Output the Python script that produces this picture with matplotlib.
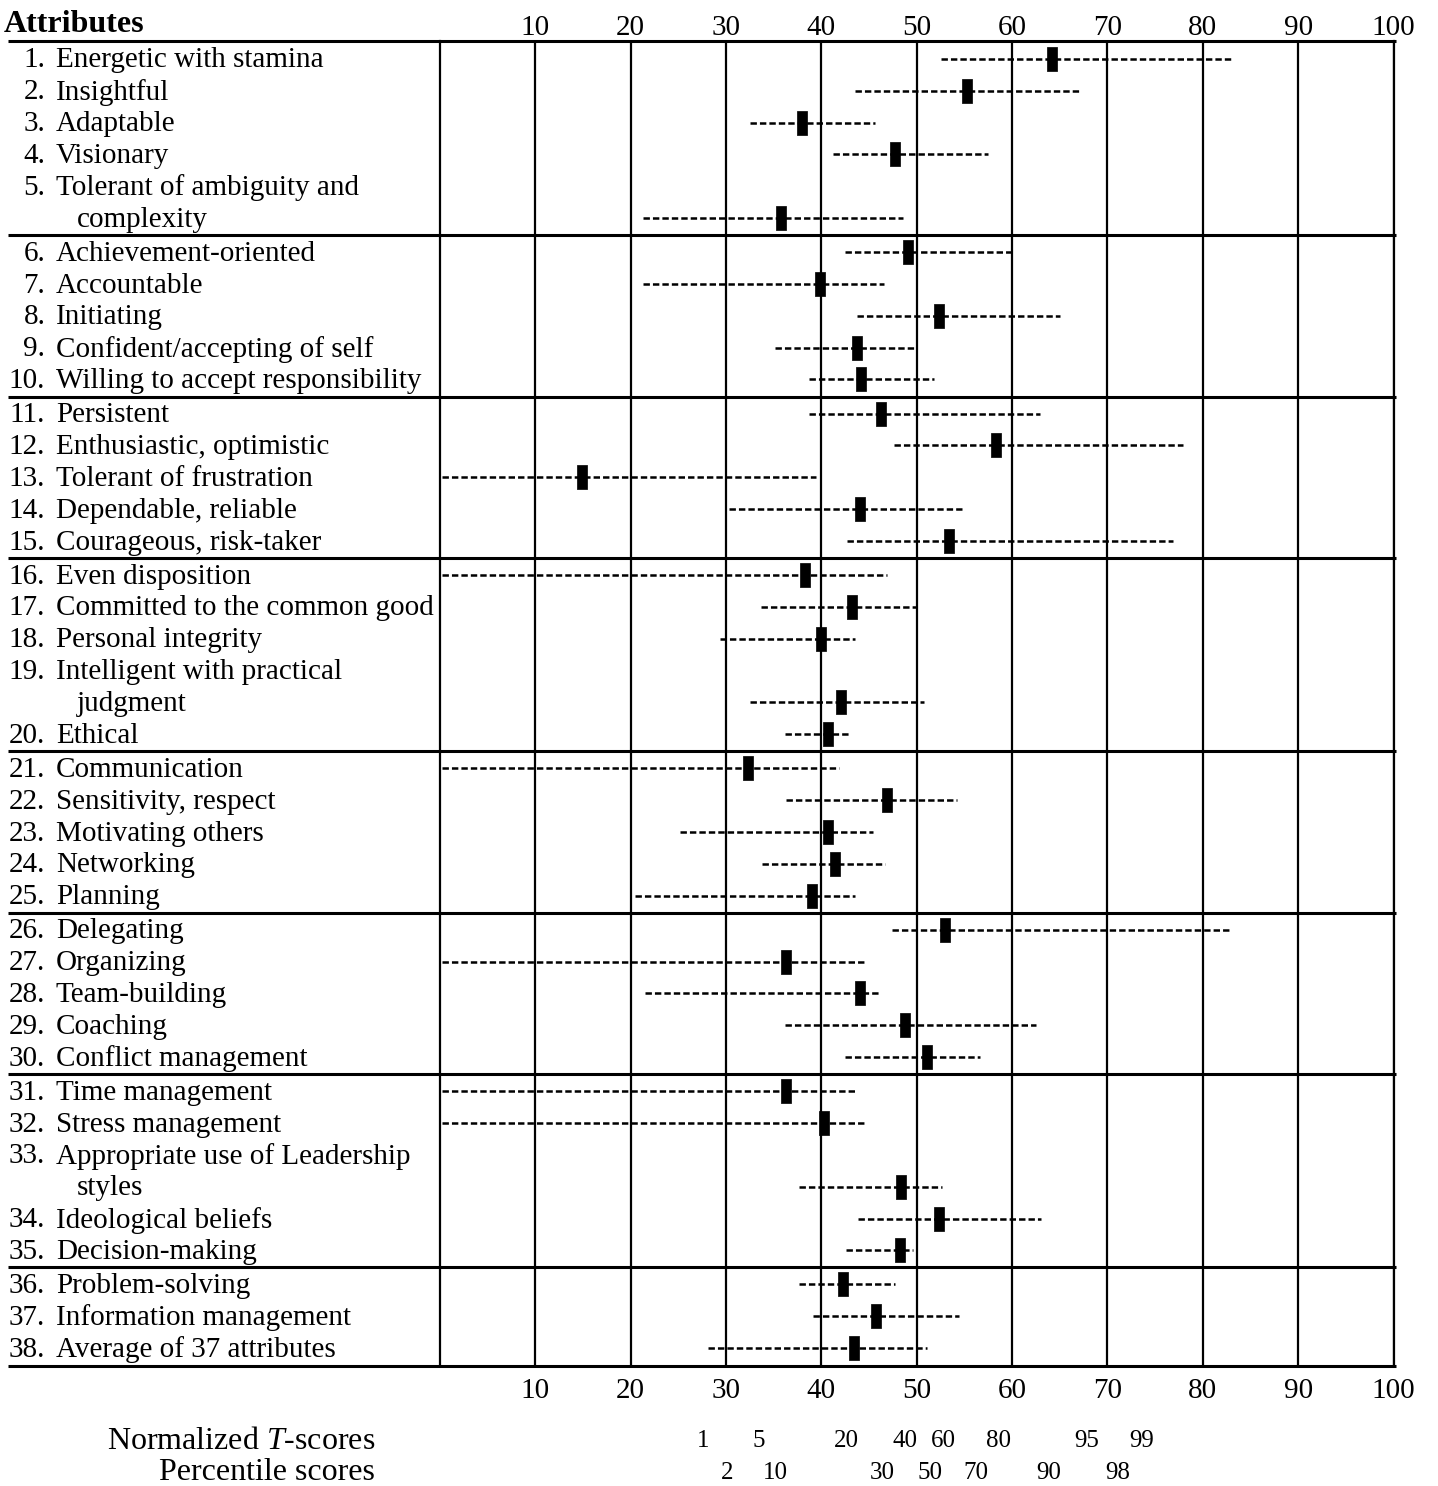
import matplotlib
matplotlib.use('Agg')
import matplotlib.pyplot as plt

plt.rcParams['font.family'] = ['Liberation Serif', 'DejaVu Serif']
plt.rcParams['mathtext.fontset'] = 'custom'
plt.rcParams['mathtext.rm'] = 'Liberation Serif'
plt.rcParams['mathtext.it'] = 'Liberation Serif:italic'
plt.rcParams['lines.scale_dashes'] = False

# ---------------- data ----------------
attributes = [
    "Energetic with stamina", "Insightful", "Adaptable", "Visionary",
    "Tolerant of ambiguity and\ncomplexity",
    "Achievement-oriented", "Accountable", "Initiating",
    "Confident/accepting of self", "Willing to accept responsibility",
    "Persistent", "Enthusiastic, optimistic", "Tolerant of frustration",
    "Dependable, reliable", "Courageous, risk-taker",
    "Even disposition", "Committed to the common good", "Personal integrity",
    "Intelligent with practical\njudgment", "Ethical",
    "Communication", "Sensitivity, respect", "Motivating others",
    "Networking", "Planning",
    "Delegating", "Organizing", "Team-building", "Coaching",
    "Conflict management",
    "Time management", "Stress management",
    "Appropriate use of Leadership\nstyles", "Ideological beliefs",
    "Decision-making",
    "Problem-solving", "Information management", "Average of 37 attributes",
]
group_sizes = [5, 5, 5, 5, 5, 5, 5, 3]

means = [64.2, 55.3, 38.0, 47.7, 35.8,
         49.1, 39.9, 52.3, 43.7, 44.2,
         46.3, 58.3, 14.9, 44.0, 53.4,
         38.3, 43.2, 40.0, 42.1, 40.7,
         32.3, 46.9, 40.7, 41.4, 39.0,
         53.0, 36.3, 44.1, 48.8, 51.1,
         36.3, 40.3, 48.3, 52.3, 48.2,
         42.3, 45.7, 43.4]
lows = [52.5, 43.5, 32.5, 41.2, 21.3,
        42.5, 21.3, 43.7, 35.1, 38.7,
        38.7, 47.6, 0.2, 30.3, 42.7,
        0.2, 33.7, 29.4, 32.5, 36.2,
        0.2, 36.3, 25.2, 33.8, 20.5,
        47.4, 0.2, 21.5, 36.2, 42.5,
        0.2, 0.2, 37.6, 43.8, 42.6,
        37.7, 39.1, 28.1]
highs = [83.0, 67.1, 45.6, 57.5, 48.6,
         59.9, 46.6, 65.0, 50.0, 51.8,
         62.9, 77.9, 39.4, 54.7, 76.9,
         46.9, 50.0, 43.5, 50.8, 43.0,
         41.8, 54.2, 45.4, 46.7, 43.5,
         82.8, 44.7, 46.3, 62.5, 56.6,
         43.7, 44.8, 52.7, 63.0, 49.6,
         47.7, 54.4, 51.1]

axis_ticks = [10, 20, 30, 40, 50, 60, 70, 80, 90, 100]

tscore_labels = ["1", "5", "20", "40", "60", "80", "95", "99"]
tscore_pos = [27.6, 33.4, 42.6, 48.8, 52.8, 58.6, 67.8, 73.6]
pct_labels = ["2", "10", "30", "50", "70", "90", "98"]
pct_pos = [30.1, 35.2, 46.4, 51.4, 56.2, 63.8, 71.1]

# ---------------- layout ----------------
gap = 0.07
line_y, item_y, sep_y = [], [], []
cur = 0.0
idx = 0
for gi, n in enumerate(group_sizes):
    for _ in range(n):
        ys = []
        for _ln in attributes[idx].split('\n'):
            ys.append(cur)
            cur += 1
        line_y.append(ys)
        item_y.append(ys[-1])
        idx += 1
    if gi < len(group_sizes) - 1:
        sep_y.append(cur - 0.5 + gap / 2)
        cur += gap
last = cur - 1
y_top = -0.56
y_bot = last + 0.56

W, H = 1438, 1486
fig = plt.figure(figsize=(W / 100, H / 100), dpi=100)
ax = fig.add_axes([440 / W, 120 / H, (1393.5 - 440) / W, 1325 / H])
ax.set_xlim(0, 100)
ax.set_ylim(y_bot, y_top)

FS = 21
x_line_left = -45.3
x_line_right = 100.3
x_num = -41.4
x_text = -40.3
x_cont = -38.1

# vertical grid
ax.set_xticks(axis_ticks)
ax.set_xticklabels([str(t) for t in axis_ticks], fontsize=FS)
ax.grid(axis='x', color='black', lw=1.6)
ax.set_yticks([])
ax.tick_params(axis='x', length=0, pad=9)
for s in ['top', 'bottom']:
    ax.spines[s].set_visible(False)
for s in ['left', 'right']:
    ax.spines[s].set_linewidth(1.6)

sec = ax.secondary_xaxis('top')
sec.set_xticks(axis_ticks)
sec.set_xticklabels([str(t) for t in axis_ticks], fontsize=FS)
sec.tick_params(axis='x', length=0, pad=0)
sec.spines['top'].set_visible(False)

# horizontal rules
rules = [y_top] + sep_y + [y_bot]
hl = ax.hlines(rules, x_line_left, x_line_right, colors='black', lw=2.2)
hl.set_clip_on(False)

# ranges (dashed)
ax.hlines(item_y, lows, highs, colors='black', lw=1.8,
          linestyles=[(0, (4.6, 2.2))])
# means (black bars)
rect = [(-0.2, -0.5), (0.2, -0.5), (0.2, 0.5), (-0.2, 0.5), (-0.2, -0.5)]
ax.plot(means, item_y, ls='none', marker=rect, ms=17.5, color='black',
        mec='black', mew=0.5)

# attribute labels
for i, ys in enumerate(line_y):
    parts = attributes[i].split('\n')
    ax.text(x_num, ys[0] + 0.05, f"{i + 1}.", ha='right', va='center',
            fontsize=FS, clip_on=False)
    ax.text(x_text, ys[0] + 0.05, parts[0], ha='left', va='center',
            fontsize=FS, clip_on=False)
    for yy, p in zip(ys[1:], parts[1:]):
        ax.text(x_cont, yy + 0.05, p, ha='left', va='center', fontsize=FS,
                clip_on=False)

ax.text(-45.8, y_top - 0.52, "Attributes", ha='left', va='center',
        fontsize=23, fontweight='bold', clip_on=False)

# bottom legend rows
ax.text(-6.8, y_bot + 2.36, "Normalized $\\mathit{T}$-scores", ha='right',
        va='center', fontsize=23, clip_on=False)
ax.text(-6.8, y_bot + 3.36, "Percentile scores", ha='right',
        va='center', fontsize=23, clip_on=False)
for lab, p in zip(tscore_labels, tscore_pos):
    ax.text(p, y_bot + 2.36, lab, ha='center', va='center', fontsize=18,
            clip_on=False)
for lab, p in zip(pct_labels, pct_pos):
    ax.text(p, y_bot + 3.36, lab, ha='center', va='center', fontsize=18,
            clip_on=False)

fig.savefig('out.png', dpi=100)
